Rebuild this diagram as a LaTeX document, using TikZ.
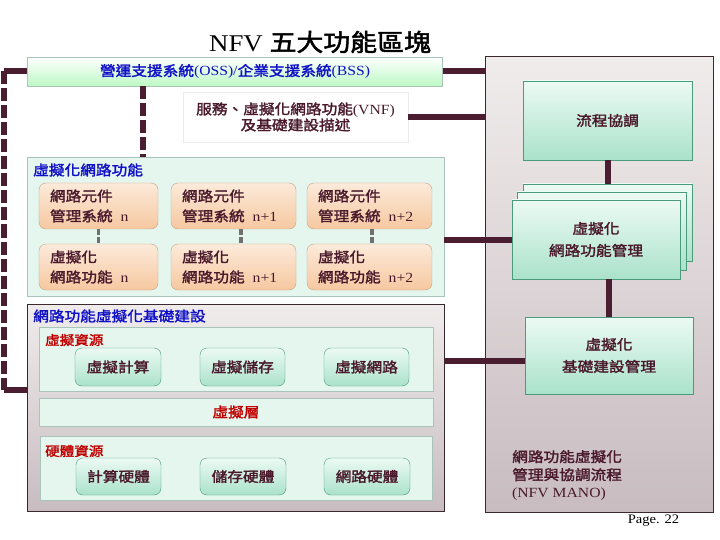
\documentclass[tikz,border=0pt]{standalone}
\usepackage{fontspec}
\setmainfont{Liberation Serif}[FakeStretch=1.12]
\newfontfamily\cjk{Noto Sans CJK TC}[FakeStretch=1.12, AutoFakeBold=2]
\newcommand\cj[1]{{\cjk\bfseries #1}}
\newcommand\gp{\hspace{8pt}}
\definecolor{connc}{RGB}{74,30,48}
\definecolor{tcol}{RGB}{74,26,44}
\definecolor{tblue}{RGB}{16,16,200}
\definecolor{tred}{RGB}{192,0,0}
\definecolor{mint}{RGB}{228,246,238}
\definecolor{mintb}{RGB}{168,196,188}
\definecolor{gtop}{RGB}{236,250,244}
\definecolor{gbot}{RGB}{170,226,202}
\definecolor{gbord}{RGB}{74,154,124}
\definecolor{otop}{RGB}{252,234,218}
\definecolor{obot}{RGB}{246,200,160}
\definecolor{obord}{RGB}{200,160,128}
\definecolor{ptop}{RGB}{240,236,236}
\definecolor{pbot}{RGB}{200,188,192}
\definecolor{pbord}{RGB}{58,40,48}
\definecolor{dgrey}{RGB}{112,112,112}
\tikzset{
  conn/.style={line width=6pt, draw=connc},
  dconn/.style={conn, dash pattern=on 13pt off 4pt},
  gdash/.style={line width=3.5pt, draw=dgrey, dash pattern=on 6pt off 2pt},
  txt/.style={font=\fontsize{14}{20}\selectfont, text=tcol},
  panel/.style={draw=mintb, fill=mint, inner sep=0pt},
  grey/.style={draw=pbord, line width=1pt, top color=ptop, bottom color=pbot, inner sep=0pt},
  gbox/.style={txt, draw=gbord, top color=gtop, bottom color=gbot, inner sep=0pt, align=center},
  rgbox/.style={gbox, rounded corners=7pt},
  obox/.style={txt, draw=obord, top color=otop, bottom color=obot, rounded corners=7pt,
     inner xsep=11pt, inner ysep=0pt, align=left, minimum height=46pt},
  lbl/.style={font=\fontsize{14}{20}\selectfont, anchor=west, inner sep=0pt},
}
\begin{document}
\begin{tikzpicture}[x=1pt,y=-1pt]
\useasboundingbox (0,0) rectangle (720,540);
% title
\node[font=\fontsize{24}{28}\selectfont, text=black, inner sep=0pt] (title) at (320,42) {NFV \cj{五大功能區塊}};
% big containers
\node[grey, minimum width=228pt, minimum height=455pt] (mano) at (599,284.5) {};
\node[panel, draw=mintb, top color=white, bottom color=mint!80!green!90!white, minimum width=415pt, minimum height=29pt,
      font=\fontsize{14}{20}\selectfont, text=tblue] (oss) at (235,71.5) {\cj{營運支援系統}(OSS)/\cj{企業支援系統}(BSS)};
\node[txt, draw=black!8, fill=white, minimum width=225pt, minimum height=50pt, align=center, inner sep=0pt,
      font=\fontsize{14}{16}\selectfont] (desc) at (295.5,117) {\cj{服務、虛擬化網路功能}(VNF)\\\cj{及基礎建設描述}};
\node[panel, minimum width=417pt, minimum height=139pt] (vnf) at (235.5,226.5) {};
\node[grey, minimum width=417pt, minimum height=207pt] (nfvi) at (235.5,407.5) {};
% connectors
\coordinate (lt) at (4,71.5);
\coordinate (lb) at (4,390);
\coordinate (dm) at (143,86);
\draw[conn] (oss.west) -- (lt);
\draw[dconn] (lt) -- (lb);
\draw[conn] (lb) -- (lb -| nfvi.west);
\draw[dconn] (dm) -- (dm |- vnf.north);
\draw[conn] (oss.east) -- (oss.east -| mano.west);
\draw[conn] (desc.east) -- (desc.east -| mano.west);
% VNF area
\node[lbl, text=tblue] (vnft) at (33,170) {\cj{虛擬化網路功能}};
\node[obox, text width=97pt] (em1) at (98.5,206) {\cj{網路元件}\\\cj{管理系統}\gp n};
\node[obox, text width=103pt] (em2) at (233.5,206) {\cj{網路元件}\\\cj{管理系統}\gp n+1};
\node[obox, text width=103pt] (em3) at (369.5,206) {\cj{網路元件}\\\cj{管理系統}\gp n+2};
\node[obox, text width=97pt] (vf1) at (98.5,267) {\cj{虛擬化}\\\cj{網路功能}\gp n};
\node[obox, text width=103pt] (vf2) at (233.5,267) {\cj{虛擬化}\\\cj{網路功能}\gp n+1};
\node[obox, text width=103pt] (vf3) at (369.5,267) {\cj{虛擬化}\\\cj{網路功能}\gp n+2};
\draw[gdash] (em1.south) -- (vf1.north);
\draw[gdash] ([xshift=7.5pt]em2.south) -- ([xshift=7.5pt]vf2.north);
\draw[gdash] ([xshift=2.5pt]em3.south) -- ([xshift=2.5pt]vf3.north);
% NFVI area
\node[lbl, text=tblue] (nfvit) at (33,316) {\cj{網路功能虛擬化基礎建設}};
\node[panel, minimum width=394pt, minimum height=64pt] (vres) at (236,359) {};
\node[lbl, text=tred, font=\fontsize{13}{16}\selectfont] (vrest) at (45,340) {\cj{虛擬資源}};
\node[rgbox, minimum width=86pt, minimum height=38pt] (vc) at (118,367) {\cj{虛擬計算}};
\node[rgbox, minimum width=85pt, minimum height=38pt] (vs) at (242.5,367) {\cj{虛擬儲存}};
\node[rgbox, minimum width=85pt, minimum height=38pt] (vn) at (366.5,367) {\cj{虛擬網路}};
\node[panel, minimum width=394pt, minimum height=28pt, font=\fontsize{14}{16}\selectfont, text=tred] (vlay) at (236,412) {\cj{虛擬層}};
\node[panel, minimum width=392pt, minimum height=64pt] (hres) at (236.5,468) {};
\node[lbl, text=tred, font=\fontsize{13}{16}\selectfont] (hrest) at (45,451) {\cj{硬體資源}};
\node[rgbox, minimum width=85pt, minimum height=37pt] (hc) at (118.5,476.5) {\cj{計算硬體}};
\node[rgbox, minimum width=86pt, minimum height=37pt] (hs) at (243,476.5) {\cj{儲存硬體}};
\node[rgbox, minimum width=86pt, minimum height=37pt] (hn) at (367,476.5) {\cj{網路硬體}};
% MANO contents
\node[gbox, minimum width=169pt, minimum height=79pt] (flow) at (607.5,120.5) {\cj{流程協調}};
\node[gbox, minimum width=169pt, minimum height=77pt] (vnfmb) at (607.5,222.5) {};
\node[gbox, minimum width=169pt, minimum height=78pt] (vnfmm) at (601.5,231) {};
\node[gbox, minimum width=168pt, minimum height=79pt, font=\fontsize{14}{22}\selectfont] (vnfm) at (596,239.5) {\cj{虛擬化}\\\cj{網路功能管理}};
\node[gbox, minimum width=168pt, minimum height=77pt, font=\fontsize{14}{22}\selectfont] (vim) at (609,355.5) {\cj{虛擬化}\\\cj{基礎建設管理}};
\draw[conn] (flow.south) -- (flow.south |- vnfmb.north);
\draw[conn] (vim.north) -- (vim.north |- vnfm.south);
\draw[conn] (vnfm.west) -- (vnfm.west -| vnf.east);
\draw[conn] ([yshift=-5pt]vim.west) -- ([yshift=-5pt]vim.west -| nfvi.east);
\node[txt, anchor=north west, inner sep=0pt, align=left, font=\fontsize{14}{18}\selectfont] (manot) at (512,450)
  {\cj{網路功能虛擬化}\\\cj{管理與協調流程}\\(NFV MANO)};
\node[font=\fontsize{13}{16}\selectfont, inner sep=0pt] (page) at (653.5,521) {Page. 22};
\end{tikzpicture}
\end{document}
